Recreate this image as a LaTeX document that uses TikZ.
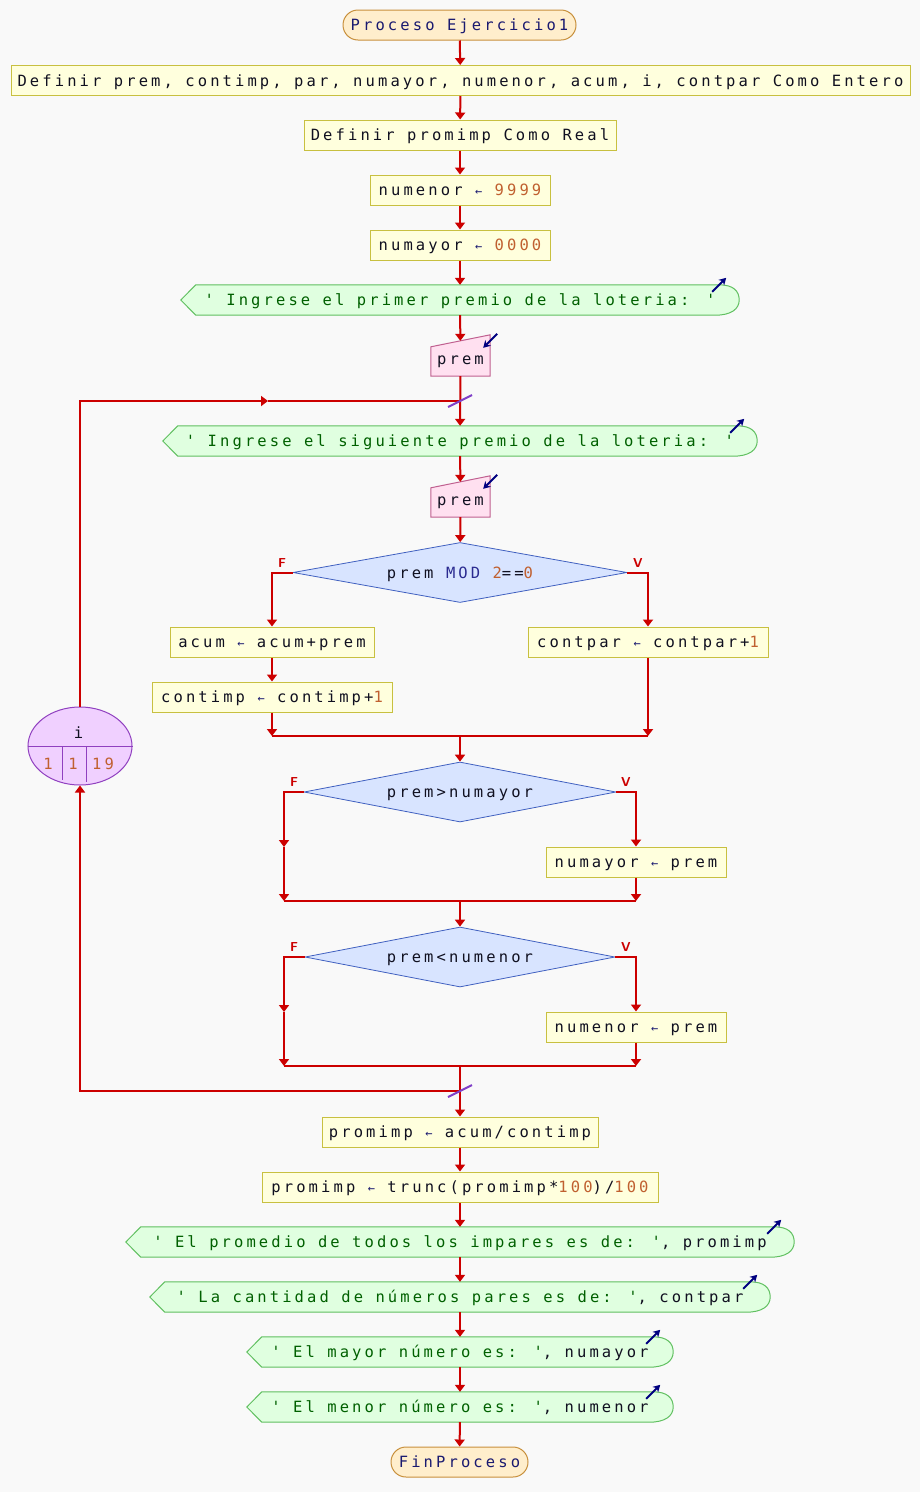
\documentclass[tikz,border=0pt]{standalone}
\usepackage{fontspec}
\usetikzlibrary{shapes.geometric,calc,arrows.meta}
\newfontfamily\pf{DejaVu Sans Mono}[LetterSpace=20]
\definecolor{bgc}{HTML}{F9F9F9}
\definecolor{flowc}{HTML}{CC0000}
\definecolor{procf}{HTML}{FFFFDD}
\definecolor{procb}{HTML}{C8C040}
\definecolor{termf}{HTML}{FFEECC}
\definecolor{termb}{HTML}{C8903C}
\definecolor{outf}{HTML}{E0FFE0}
\definecolor{outb}{HTML}{60C060}
\definecolor{inf}{HTML}{FFE0F0}
\definecolor{inb}{HTML}{C06090}
\definecolor{decf}{HTML}{D8E4FF}
\definecolor{decb}{HTML}{4060C0}
\definecolor{loopf}{HTML}{F0D0FF}
\definecolor{loopb}{HTML}{9040C0}
\definecolor{txtc}{HTML}{101020}
\definecolor{navyc}{HTML}{1A1A70}
\definecolor{modc}{HTML}{2A2A90}
\definecolor{numc}{HTML}{C06030}
\definecolor{strc}{HTML}{006000}
\definecolor{iconc}{HTML}{000080}
\definecolor{slashc}{HTML}{8040C8}
\pgfdeclarelayer{bg}
\pgfsetlayers{bg,main}
% assignment arrow, numbers and string literals
\newcommand\asg{{\color{navyc}\fontsize{12}{12}\selectfont ←}}
\newcommand\nm[1]{{\color{numc}#1}}
\newcommand\st[1]{{\color{strc}#1}}
% output symbol: pointed left end, rounded right end, write icon
\newcommand\outshape[1]{%
  \filldraw[outsh] (#1.west) -- ([xshift=15pt]#1.north west)
    -- ([xshift=-20pt]#1.north east)
    .. controls ([xshift=-6pt]#1.north east) and ([yshift=9pt]#1.east) .. (#1.east)
    .. controls ([yshift=-9pt]#1.east) and ([xshift=-8pt]#1.south east) .. ([xshift=-24pt]#1.south east)
    -- ([xshift=15pt]#1.south west) -- cycle;
  \draw[icon] ([xshift=-27pt,yshift=-7pt]#1.north east) -- ([xshift=-13pt,yshift=7pt]#1.north east);}
% input symbol: slanted top, read icon
\newcommand\inshape[1]{%
  \filldraw[insh] ([yshift=-6pt]#1.north west) -- ([yshift=6pt]#1.north east)
    -- (#1.south east) -- (#1.south west) -- cycle;
  \draw[icon] ([xshift=7pt,yshift=7pt]#1.north east) -- ([xshift=-7pt,yshift=-7pt]#1.north east);}
\begin{document}
\begin{tikzpicture}[x=1pt,y=-1pt,
  base/.style={font=\pf\fontsize{15.5}{17}\selectfont, text=txtc, inner sep=0pt, text height=14.5pt, text depth=3.5pt},
  proc/.style={base, draw=procb, fill=procf, line width=1pt, minimum height=30pt},
  term/.style={base, draw=termb, fill=termf, line width=1pt, minimum height=30pt, rounded corners=15pt, text=navyc},
  outp/.style={base, minimum height=30pt},
  inp/.style={base, minimum width=59pt, minimum height=35pt},
  dec/.style={base, diamond, aspect=5.5, draw=decb, fill=decf, line width=0.8pt},
  loopn/.style={ellipse, draw=loopb, fill=loopf, line width=1pt, minimum width=104pt, minimum height=78pt, inner sep=0pt},
  outsh/.style={draw=outb, fill=outf, line width=1pt},
  insh/.style={draw=inb, fill=inf, line width=1pt},
  icon/.style={draw=iconc, line width=2pt, -{Stealth[length=7pt,width=8pt]}},
  line/.style={draw=flowc, line width=2pt},
  flow/.style={line, -{Triangle[length=7pt,width=10pt]}},
  slash/.style={draw=slashc, line width=2pt},
  lab/.style={font=\sffamily\bfseries\fontsize{13}{13}\selectfont, text=flowc, inner sep=0pt}]
\useasboundingbox (0,0) rectangle (920,1492);

% sequence before the loop
\node[term, minimum width=233pt] (ini) at (459.5,25) {Proceso Ejercicio1};
\node[proc, minimum width=899pt] (def1) at (460.5,80.5) {Definir prem, contimp, par, numayor, numenor, acum, i, contpar Como Entero};
\node[proc, minimum width=312pt] (def2) at (460,135) {Definir promimp Como Real};
\node[proc, minimum width=180pt] (a1) at (460,190) {numenor \asg{} \nm{9999}};
\node[proc, minimum width=180pt] (a2) at (460,245) {numayor \asg{} \nm{0000}};
\node[outp, minimum width=558pt] (o1) at (460,300) {\st{' Ingrese el primer premio de la loteria: '}};
\node[inp] (i1) at (460.5,358.5) {prem};

% loop body
\node[outp, minimum width=594pt] (o2) at (460,441) {\st{' Ingrese el siguiente premio de la loteria: '}};
\node[inp] (i2) at (460.5,499.5) {prem};
\node[dec, minimum width=334pt, minimum height=60pt] (c1) at (460,572.5) {prem {\color{modc}MOD} \nm{2}==\nm{0}};
\node[proc, minimum width=204pt] (s1) at (272,642) {acum \asg{} acum+prem};
\node[proc, minimum width=240pt] (s2) at (272,697) {contimp \asg{} contimp+\nm{1}};
\node[proc, minimum width=240pt] (s3) at (648,642) {contpar \asg{} contpar+\nm{1}};
\coordinate (j1) at (460,736);
\node[dec, minimum width=312pt, minimum height=60pt] (c2) at (460,792) {prem>numayor};
\coordinate (l2) at (284,847);
\node[proc, minimum width=180pt] (s4) at (636,862) {numayor \asg{} prem};
\coordinate (j2) at (460,901);
\node[dec, minimum width=310pt, minimum height=60pt] (c3) at (460,957) {prem<numenor};
\coordinate (l3) at (284,1012);
\node[proc, minimum width=180pt] (s5) at (636,1027) {numenor \asg{} prem};
\coordinate (j3) at (460,1066);

% loop control
\coordinate (lt) at (460,401);
\coordinate (lm) at (268,401);
\coordinate (lb) at (460,1091);
\node[loopn] (lp) at (80,746) {};
\draw[draw=loopb, line width=1pt] (lp.west) -- (lp.east) (62,746) -- (62,780) (86,746) -- (86,782);
\node[base] (lpv) at (78.5,733) {i};
\node[base, text=numc] (lpa) at (48,764) {1};
\node[base, text=numc] (lpb) at (73,764) {1};
\node[base, text=numc] (lpc) at (103,764) {19};

% sequence after the loop
\node[proc, minimum width=276pt] (p1) at (460,1132) {promimp \asg{} acum/contimp};
\node[proc, minimum width=396pt] (p2) at (460,1187) {promimp \asg{} trunc(promimp*\nm{100})/\nm{100}};
\node[outp, minimum width=668pt] (o3) at (460,1242) {\st{' El promedio de todos los impares es de: '}, promimp};
\node[outp, minimum width=620pt] (o4) at (460,1297) {\st{' La cantidad de números pares es de: '}, contpar};
\node[outp, minimum width=426pt] (o5) at (460,1352) {\st{' El mayor número es: '}, numayor};
\node[outp, minimum width=426pt] (o6) at (460,1407) {\st{' El menor número es: '}, numenor};
\node[term, minimum width=137pt] (fin) at (459.5,1462) {FinProceso};

% page background and symbol outlines behind the texts
\begin{pgfonlayer}{bg}
  \fill[bgc] (0,0) rectangle (920,1492);
  \outshape{o1} \outshape{o2} \outshape{o3} \outshape{o4} \outshape{o5} \outshape{o6}
  \inshape{i1} \inshape{i2}
\end{pgfonlayer}

% branch labels
\node[lab] (f1) at (282,563) {F};
\node[lab] (v1) at (638,563) {V};
\node[lab] (f2) at (294,782) {F};
\node[lab] (v2) at (626,782) {V};
\node[lab] (f3) at (294,947) {F};
\node[lab] (v3) at (626,947) {V};

% main flow
\draw[flow] (ini) -- (def1);
\draw[flow] (def1) -- (def2);
\draw[flow] (def2) -- (a1);
\draw[flow] (a1) -- (a2);
\draw[flow] (a2) -- (o1);
\draw[flow] (o1) -- (i1);
\draw[flow] (i1) -- (o2);
\draw[flow] (o2) -- (i2);
\draw[flow] (i2) -- (c1);

\draw[flow] (c1.west) -| (s1);
\draw[flow] (s1) -- (s2);
\draw[flow] (s2) -- (s2 |- j1);
\draw[flow] (c1.east) -| (s3);
\draw[flow] (s3) -- (s3 |- j1);
\draw[line] (s2 |- j1) -- (s3 |- j1);
\draw[flow] (j1) -- (c2);

\draw[flow] (c2.west) -| (l2);
\draw[flow] (l2) -- (l2 |- j2);
\draw[flow] (c2.east) -| (s4);
\draw[flow] (s4) -- (s4 |- j2);
\draw[line] (l2 |- j2) -- (s4 |- j2);
\draw[flow] (j2) -- (c3);

\draw[flow] (c3.west) -| (l3);
\draw[flow] (l3) -- (l3 |- j3);
\draw[flow] (c3.east) -| (s5);
\draw[flow] (s5) -- (s5 |- j3);
\draw[line] (l3 |- j3) -- (s5 |- j3);
\draw[flow] (j3) -- (p1);

% loop return and re-entry
\draw[flow] (lb) -| (lp.south);
\draw[flow] (lp.north) |- (lm);
\draw[line] (lm) -- (lt);
\draw[slash] ([xshift=-12pt,yshift=-6pt]lt) -- ([xshift=12pt,yshift=6pt]lt);
\draw[slash] ([xshift=-12pt,yshift=-6pt]lb) -- ([xshift=12pt,yshift=6pt]lb);

\draw[flow] (p1) -- (p2);
\draw[flow] (p2) -- (o3);
\draw[flow] (o3) -- (o4);
\draw[flow] (o4) -- (o5);
\draw[flow] (o5) -- (o6);
\draw[flow] (o6) -- (fin);
\end{tikzpicture}
\end{document}
